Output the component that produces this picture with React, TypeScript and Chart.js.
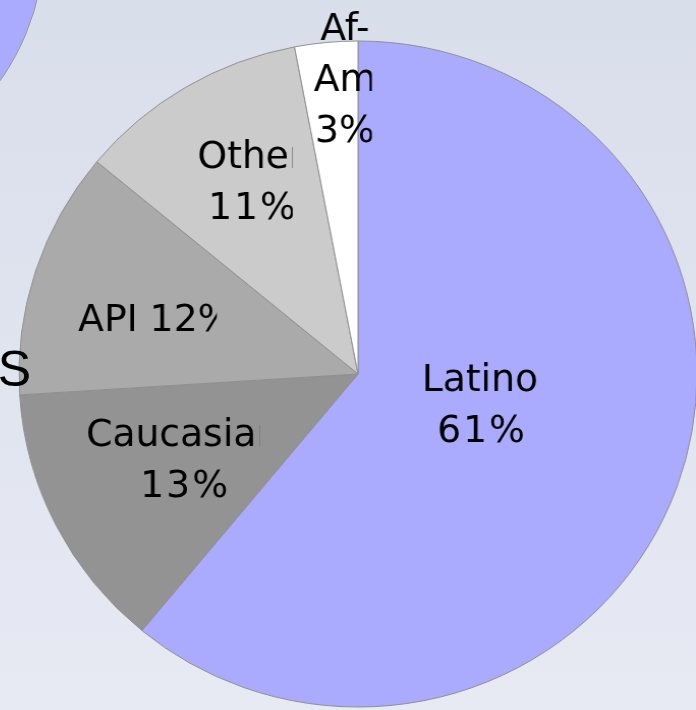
import React, { useEffect, useRef } from "react";
import { Chart, registerables } from "chart.js";

Chart.register(...registerables);

// ---- data ----
const categories = ["Latino", "Caucasian", "API", "Other", "Af-Am"];
const shares = [61, 13, 12, 11, 3];
const inlinePercent = [false, false, true, false, false];

// ---- style ----
const sliceColors = ["#AAAAFF", "#939393", "#AAAAAA", "#CBCBCB", "#FFFFFF"];
const labelRadiusFrac = [0.37, 0.574, 0.62, 0.662, 0.89];
const labelAngleShiftDeg = [-6.2, 1, -2.2, 2.1, 2.9];
const labelClipRight = [9999, 75, 60, 41, 26.5];
const LABEL_FONT = "37px 'DejaVu Sans'";
const LINE_H = 51;
const CAP_H = 27;

function linesFor(i: number): string[] {
  const parts = categories[i].split(/(?<=-)/);
  const pct = `${shares[i]}%`;
  if (inlinePercent[i]) {
    parts[parts.length - 1] = parts[parts.length - 1] + " " + pct;
    return parts;
  }
  return [...parts, pct];
}

const labelPlugin = {
  id: "sliceLabels",
  afterDatasetsDraw(chart: any) {
    const ctx = chart.ctx as CanvasRenderingContext2D;
    const meta = chart.getDatasetMeta(0);
    meta.data.forEach((arc: any, i: number) => {
      const { x, y, startAngle, endAngle, outerRadius } = arc.getProps(
        ["x", "y", "startAngle", "endAngle", "outerRadius"],
        true
      );
      const mid = (startAngle + endAngle) / 2 + (labelAngleShiftDeg[i] * Math.PI) / 180;
      const r = outerRadius * labelRadiusFrac[i];
      const lx = x + Math.cos(mid) * r;
      const ly = y + Math.sin(mid) * r;
      const lines = linesFor(i);
      ctx.save();
      ctx.beginPath();
      ctx.rect(-10000, -10000, lx + labelClipRight[i] + 10000, 20000);
      ctx.clip();
      ctx.font = LABEL_FONT;
      ctx.fillStyle = "#000000";
      ctx.textAlign = "center";
      ctx.textBaseline = "alphabetic";
      lines.forEach((t, k) => {
        const by = ly - ((lines.length - 1) * LINE_H) / 2 + k * LINE_H + CAP_H / 2;
        const isPct = /^\d+%$/.test(t);
        (ctx as any).letterSpacing = isPct && t.length > 2 ? "2px" : "0px";
        ctx.fillText(t, lx + (isPct && t.length > 2 ? 2 : 0), by);
      });
      ctx.restore();
    });
  },
};

export default function App() {
  const ref = useRef<HTMLCanvasElement | null>(null);

  useEffect(() => {
    if (!ref.current) return;
    const chart = new Chart(ref.current, {
      type: "pie",
      data: {
        labels: categories,
        datasets: [
          {
            data: shares,
            backgroundColor: sliceColors,
            borderColor: "#8F8F8F",
            borderWidth: 1,
          },
        ],
      },
      options: {
        responsive: false,
        animation: false,
        radius: 333,
        layout: { padding: { top: 40, bottom: 2, left: 0, right: 0 } },
        plugins: {
          legend: { display: false },
          tooltip: { enabled: false },
        },
      } as any,
      plugins: [labelPlugin],
    });
    return () => chart.destroy();
  }, []);

  return (
    <div
      style={{
        position: "fixed",
        left: 0,
        top: 0,
        width: 696,
        height: 710,
        overflow: "hidden",
        background: "linear-gradient(to bottom, #D9DEEB, #E7EAF3)",
      }}
    >
      <div
        style={{
          position: "absolute",
          left: -444.5,
          top: -304.5,
          width: 489,
          height: 489,
          borderRadius: "50%",
          background: "#AAAAFF",
          border: "1px solid #999999",
          boxSizing: "border-box",
        }}
      />
      <div
        style={{
          position: "absolute",
          left: 24,
          top: 0,
          width: 668,
          height: 710,
          transform: "scaleX(1.018)",
          transformOrigin: "334px 374px",
        }}
      >
        <canvas ref={ref} width={668} height={710} style={{ display: "block" }} />
      </div>
      <div
        style={{
          position: "absolute",
          right: 665,
          top: 344,
          font: "50px 'Liberation Sans'",
          lineHeight: "50px",
          color: "#000",
          whiteSpace: "nowrap",
        }}
      >
        S
      </div>
    </div>
  );
}
